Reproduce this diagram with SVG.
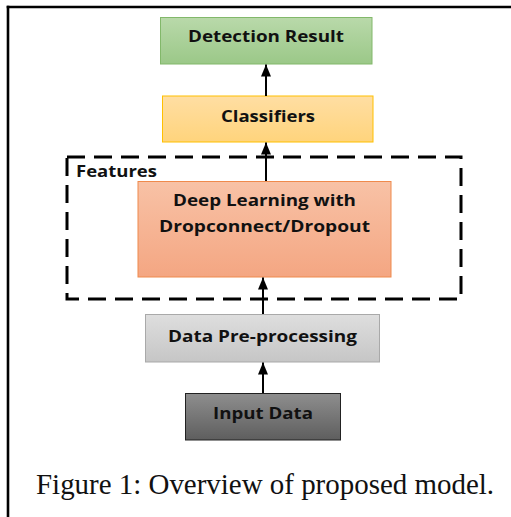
<svg xmlns="http://www.w3.org/2000/svg" width="511" height="517" viewBox="0 0 511 517">
<defs>
<linearGradient id="gGreen" x1="0" y1="0" x2="0" y2="1"><stop offset="0" stop-color="#b9d9aa"/><stop offset="1" stop-color="#9bc888"/></linearGradient>
<linearGradient id="gYellow" x1="0" y1="0" x2="0" y2="1"><stop offset="0" stop-color="#ffdea3"/><stop offset="1" stop-color="#ffd47c"/></linearGradient>
<linearGradient id="gOrange" x1="0" y1="0" x2="0" y2="1"><stop offset="0" stop-color="#f8c2a6"/><stop offset="1" stop-color="#f4a682"/></linearGradient>
<linearGradient id="gGray" x1="0" y1="0" x2="0" y2="1"><stop offset="0" stop-color="#dedede"/><stop offset="1" stop-color="#c6c6c6"/></linearGradient>
<linearGradient id="gDark" x1="0" y1="0" x2="0" y2="1"><stop offset="0" stop-color="#8e8e8e"/><stop offset="1" stop-color="#5e5e5e"/></linearGradient>
<marker id="arr" markerWidth="12" markerHeight="10" refX="12" refY="5" orient="auto" markerUnits="userSpaceOnUse"><path d="M0,0 L12,5 L0,10 Z" fill="#000"/></marker>
</defs>
<style>
.lbl{font-family:"Open Sans","DejaVu Sans",sans-serif;font-weight:700;font-size:16px;fill:#111;text-anchor:middle}
.conn{stroke:#000;stroke-width:2;fill:none;marker-end:url(#arr)}
.cap{font-family:"Liberation Serif","Times New Roman",serif;font-size:29px;fill:#111}
</style>
<rect width="511" height="517" fill="#fff"/>
<g id="frame" stroke="#000" stroke-width="2.6" fill="none">
<line x1="6.7" y1="7" x2="511" y2="7"/>
<line x1="8" y1="5.7" x2="8" y2="517"/>
</g>
<g id="features-group">
<rect x="67" y="157" width="394" height="142" fill="none" stroke="#000" stroke-width="3" stroke-dasharray="18 9"/>
<text x="76" y="177" class="lbl" style="text-anchor:start" textLength="81" lengthAdjust="spacingAndGlyphs">Features</text>
</g>
<g id="detection">
<rect x="160.5" y="17.5" width="211.5" height="46.5" fill="url(#gGreen)" stroke="#82b86a" stroke-width="1"/>
<text x="266" y="42" class="lbl" textLength="156" lengthAdjust="spacingAndGlyphs">Detection Result</text>
</g>
<g id="classifiers">
<rect x="162.5" y="96" width="210.5" height="46" fill="url(#gYellow)" stroke="#ffc000" stroke-width="1"/>
<text x="268" y="122" class="lbl" textLength="94" lengthAdjust="spacingAndGlyphs">Classifiers</text>
</g>
<g id="deep">
<rect x="138" y="181.5" width="253" height="95.5" fill="url(#gOrange)" stroke="#ef8a4c" stroke-width="1"/>
<text x="264.5" y="206" class="lbl" textLength="183" lengthAdjust="spacingAndGlyphs">Deep Learning with</text>
<text x="264.5" y="232" class="lbl" textLength="211" lengthAdjust="spacingAndGlyphs">Dropconnect/Dropout</text>
</g>
<g id="preprocessing">
<rect x="145.5" y="314.5" width="234" height="47.5" fill="url(#gGray)" stroke="#a9a9a9" stroke-width="1"/>
<text x="262.5" y="342" class="lbl" textLength="189" lengthAdjust="spacingAndGlyphs">Data Pre-processing</text>
</g>
<g id="input">
<rect x="185.5" y="393.5" width="155" height="46.5" fill="url(#gDark)" stroke="#222" stroke-width="1"/>
<text x="263" y="419" class="lbl" textLength="100" lengthAdjust="spacingAndGlyphs">Input Data</text>
</g>
<g id="connectors">
<line class="conn" x1="266" y1="96" x2="266" y2="64.5"/>
<line class="conn" x1="266" y1="181" x2="266" y2="142.5"/>
<line class="conn" x1="263" y1="314" x2="263" y2="277.5"/>
<line class="conn" x1="263" y1="393" x2="263" y2="362.5"/>
</g>
<text x="36" y="494" class="cap" textLength="458" lengthAdjust="spacingAndGlyphs">Figure 1: Overview of proposed model.</text>
</svg>
